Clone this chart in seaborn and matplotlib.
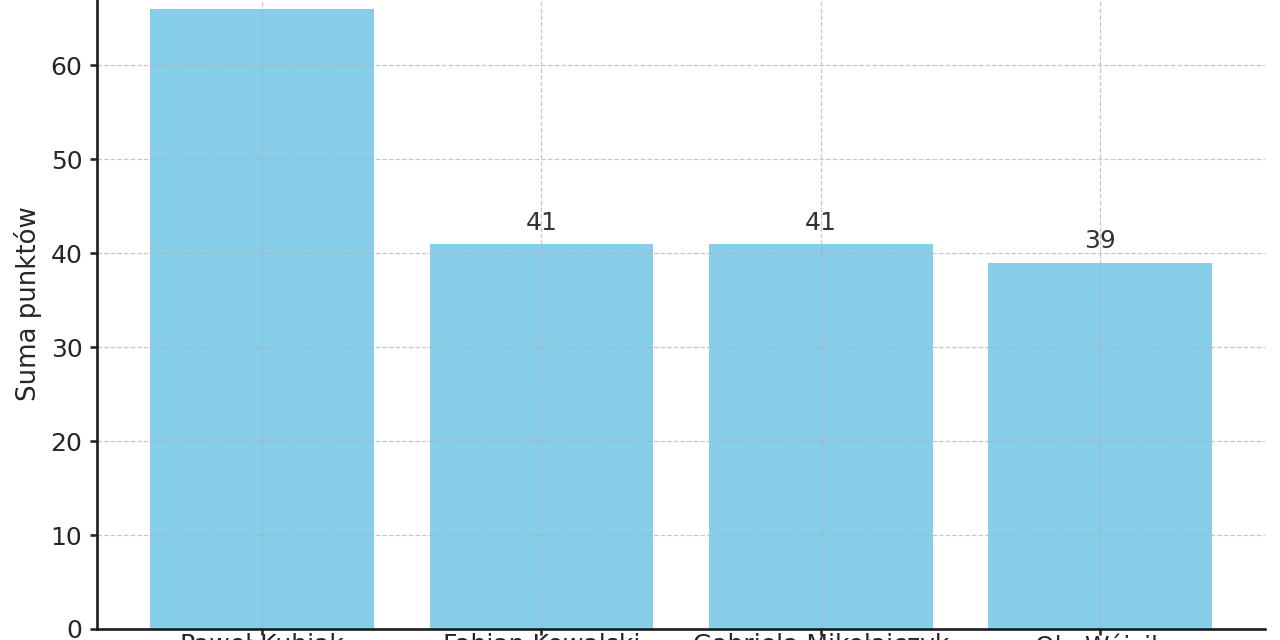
import pandas as pd
import seaborn as sns
import matplotlib.pyplot as plt

players = ['Paweł Kubiak', 'Fabian Kowalski', 'Gabriela Mikołajczyk', 'Ola Wójcik']
points = [66, 41, 41, 39]

df = pd.DataFrame({'Zawodnik': players, 'Suma punktów': points})

fig = plt.figure(figsize=(1280 / 150, 640 / 150), dpi=150)
# the reference is a crop, so the axes run past the top of the figure
ax = fig.add_axes([0.0758, 0.0172, 0.9125, 1.017])

sns.barplot(data=df, x='Zawodnik', y='Suma punktów', color='skyblue',
            saturation=1, width=0.8, errorbar=None, linewidth=0, ax=ax)

for i, v in enumerate(points):
    ax.text(i, v + 1, str(v), ha='center', va='bottom', fontsize=12, color='#333333')

ax.set_xlim(-0.59, 3.59)
ax.set_ylim(0, 69.3)
ax.set_xlabel('')
ax.set_ylabel('Suma punktów', fontsize=12.5, color='#262626')
ax.tick_params(labelsize=12, width=1.25, length=3.5, colors='#262626')
ax.tick_params(axis='x', length=3, pad=-1)
ax.grid(True, linestyle='--', linewidth=0.6, alpha=0.7)
sns.despine(ax=ax)
for side in ['left', 'bottom']:
    ax.spines[side].set_linewidth(1.25)
    ax.spines[side].set_color('#1a1a1a')

fig.savefig('out.png', dpi=150)
